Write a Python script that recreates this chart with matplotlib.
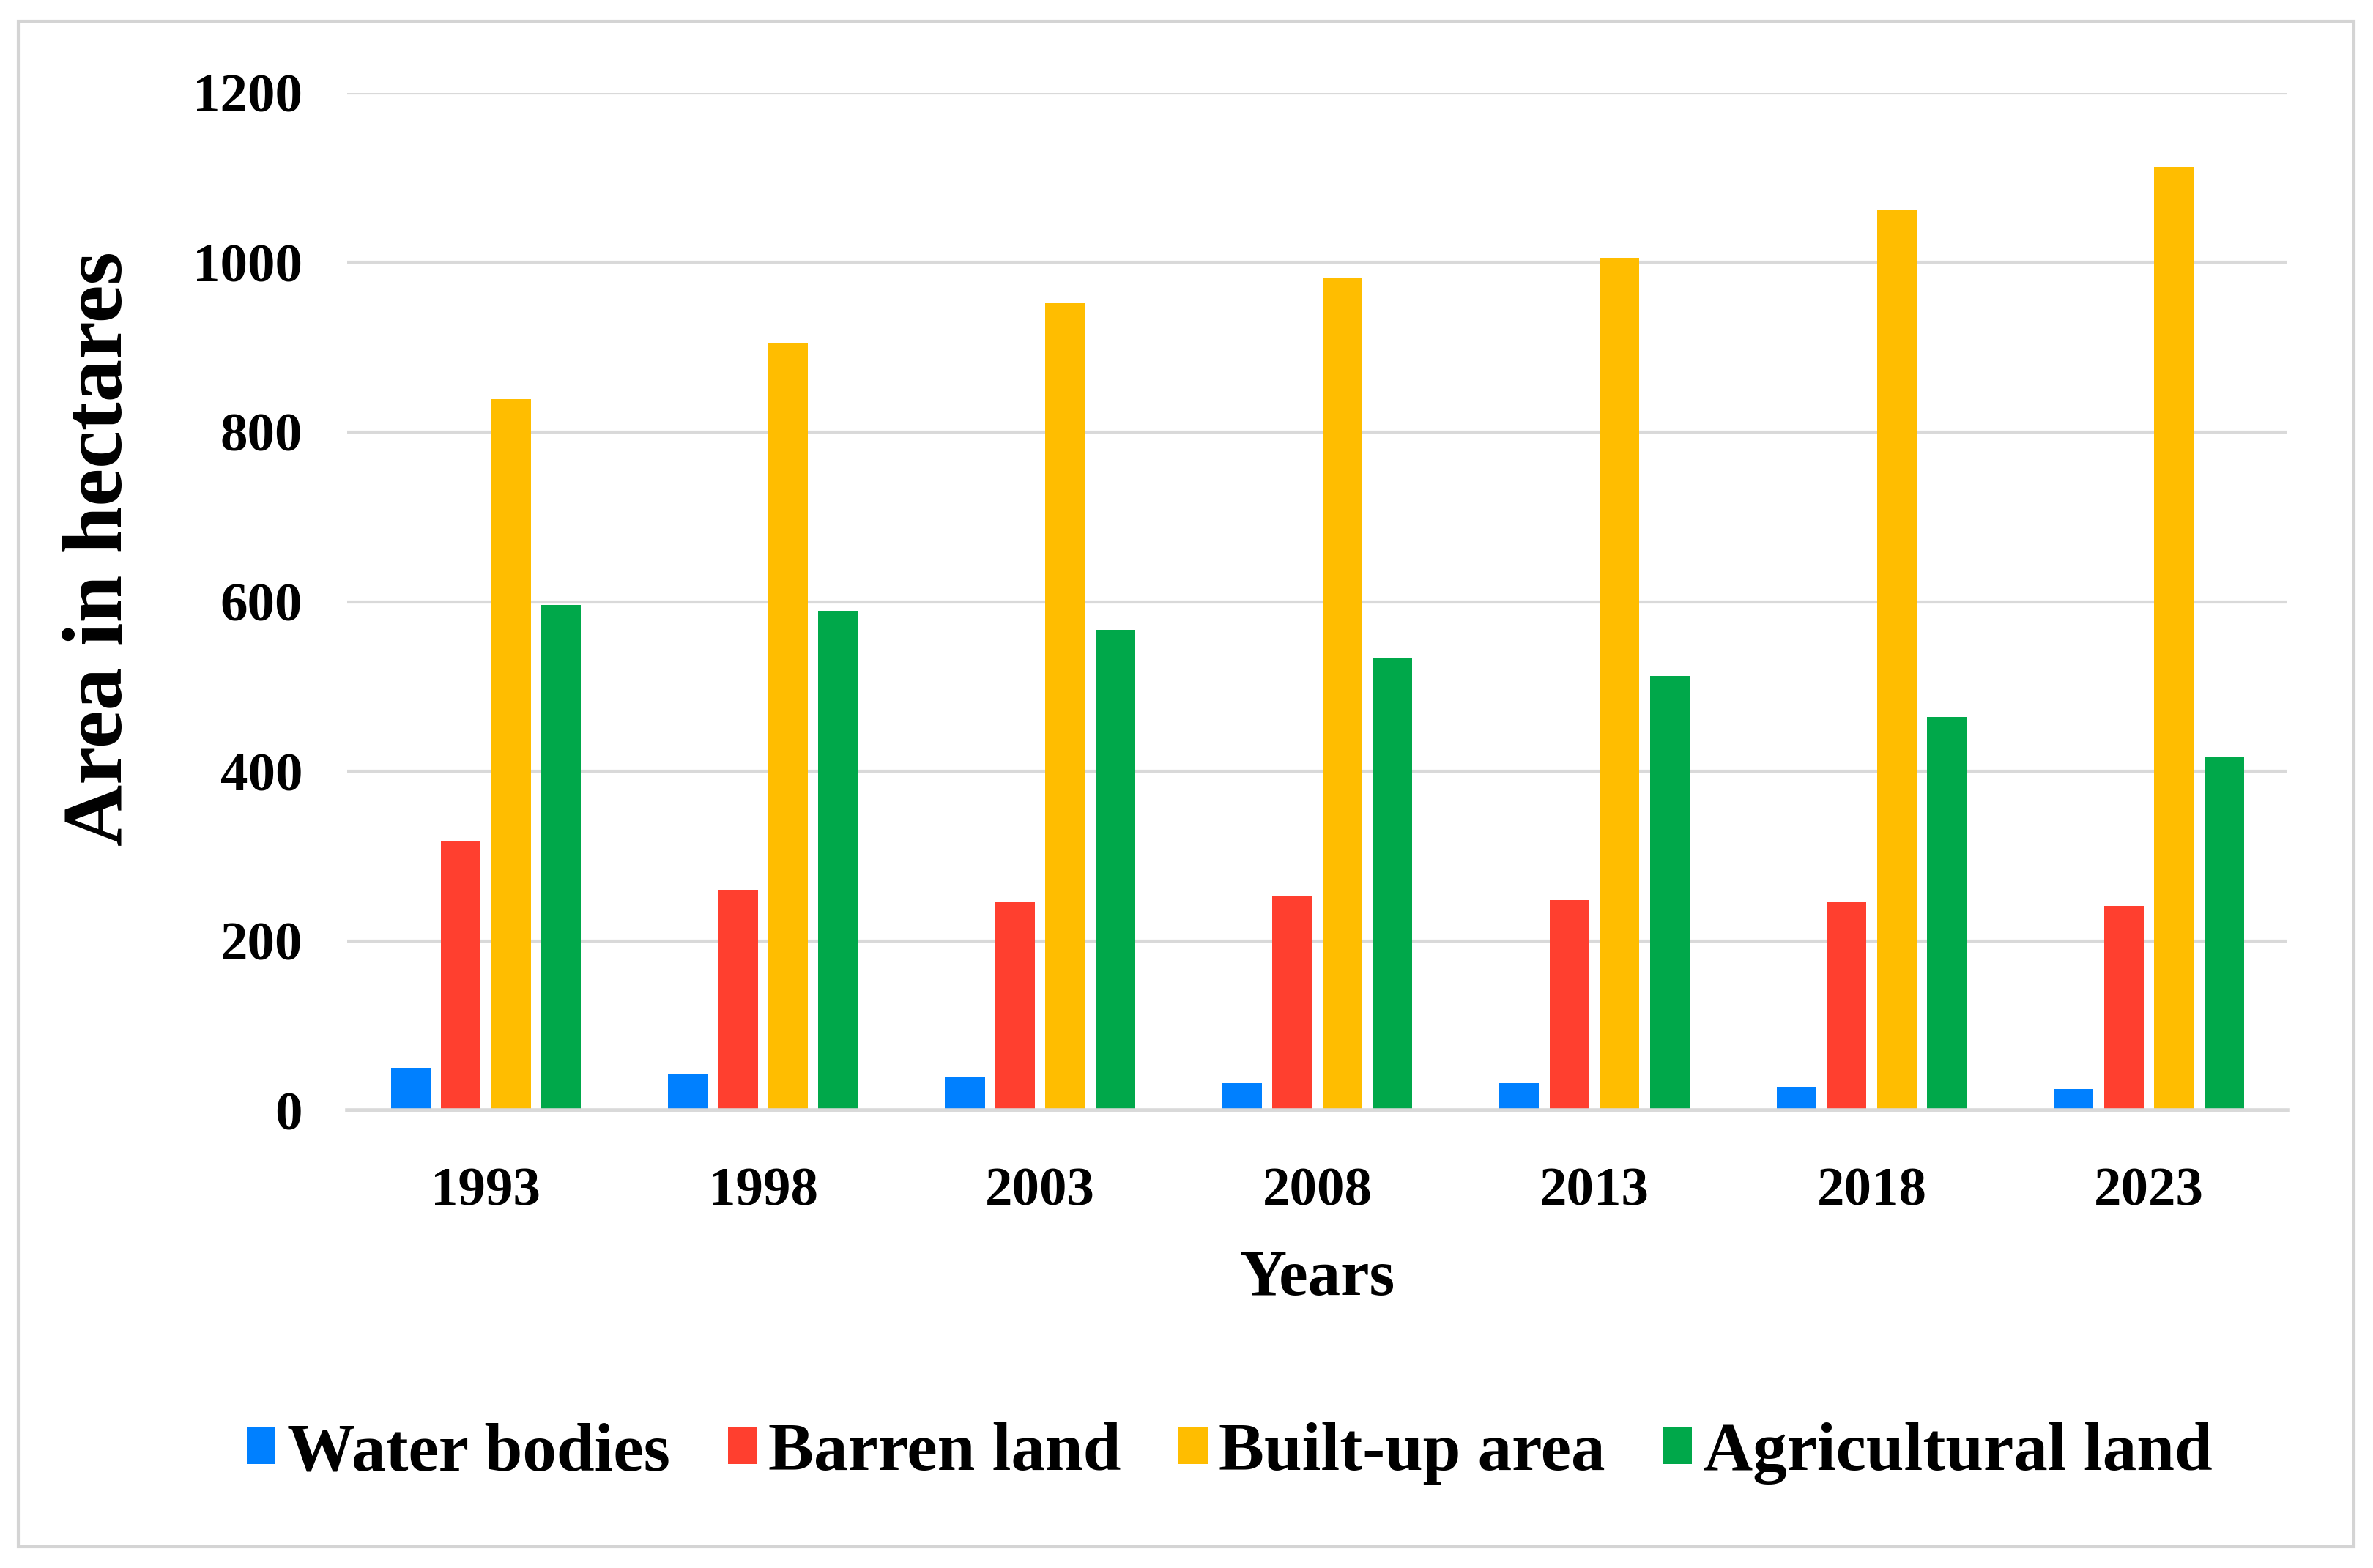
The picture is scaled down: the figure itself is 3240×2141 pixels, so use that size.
import matplotlib.pyplot as plt
from matplotlib.patches import Rectangle
import numpy as np

plt.rcParams['font.family'] = ['Liberation Serif', 'DejaVu Serif']
plt.rcParams['font.weight'] = 'bold'

# Datos (hectareas)
years = ['1993', '1998', '2003', '2008', '2013', '2018', '2023']
water_bodies = [50, 43, 40, 32, 32, 28, 25]
barren_land = [318, 260, 245, 252, 248, 245, 241]
built_up = [839, 905, 952, 981, 1006, 1062, 1113]
agricultural = [596, 589, 567, 534, 512, 464, 417]

series = [
    ("Water bodies", water_bodies, "#0080FF"),
    ("Barren land", barren_land, "#FF3F2F"),
    ("Built-up area", built_up, "#FFBD00"),
    ("Agricultural land", agricultural, "#00A84A"),
]

fig = plt.figure(figsize=(32.41, 21.41), dpi=100)
ax = fig.add_axes([0.1463, 0.2919, 0.8173, 0.6488])

x = np.arange(len(years))
width = 0.143
step = 0.181
for i, (name, vals, color) in enumerate(series):
    ax.bar(x + (i - 1.5) * step, vals, width, color=color, label=name, zorder=3)

ax.set_xlim(-0.5, len(years) - 0.5)
ax.set_ylim(0, 1200)
ax.set_yticks(range(0, 1201, 200))
ax.set_xticks(x)
ax.set_xticklabels(years)
ax.tick_params(axis='both', length=0, labelsize=54)
ax.tick_params(axis='x', pad=56)
ax.tick_params(axis='y', pad=44)
ax.yaxis.grid(True, color="#d9d9d9", linewidth=3.0, zorder=0)

for s in ['top', 'right', 'left']:
    ax.spines[s].set_visible(False)
ax.spines['bottom'].set_color("#d9d9d9")
ax.spines['bottom'].set_linewidth(4)
ax.spines['bottom'].set_zorder(4)

ax.set_xlabel("Years", fontsize=64, fontweight='bold', va='center')
ax.xaxis.set_label_coords(0.5, -0.166)
ax.set_ylabel("Area in hectares", fontsize=84, fontweight='bold', va='center')
ax.yaxis.set_label_coords(-0.127, 0.552)

fig.legend(loc='center', bbox_to_anchor=(0.518, 0.073), ncol=4, frameon=False,
           fontsize=67, handlelength=0.42, handleheight=0.45, handletextpad=0.17,
           columnspacing=0.85)

# Marco exterior gris
fig.patches.append(Rectangle((0.0077, 0.0135), 0.984, 0.973, transform=fig.transFigure,
                             fill=False, edgecolor="#d4d4d4", linewidth=3))

fig.savefig("out.png", dpi=100)
